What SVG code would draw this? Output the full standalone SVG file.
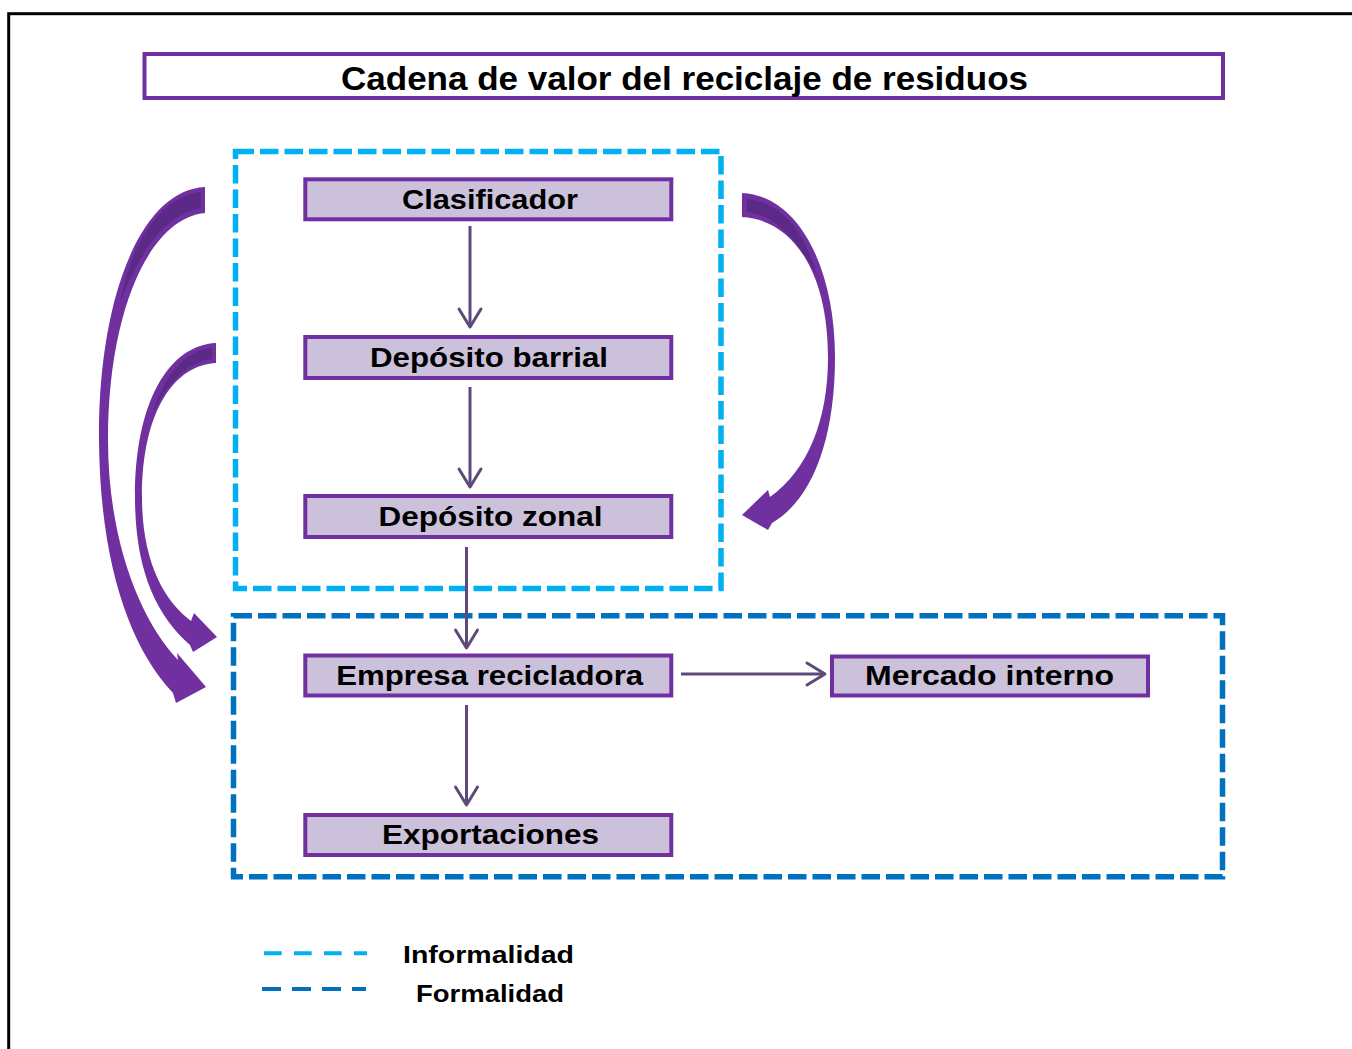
<svg xmlns="http://www.w3.org/2000/svg" width="1352" height="1049" viewBox="0 0 1352 1049">
<style>
.t{font-family:"Liberation Sans",Arial,sans-serif;font-weight:bold;fill:#000;text-anchor:middle}
.node{fill:#CCC1DA;stroke:#7030A0;stroke-width:4}
.conn{stroke:#5F497A;stroke-width:3;fill:none;marker-end:url(#chev)}
.big{fill:#7030A0}
.shade{fill:#5A2A86}
</style>
<defs>
<marker id="chev" markerUnits="userSpaceOnUse" markerWidth="28" markerHeight="32" viewBox="-5 -5 28 32" refX="18" refY="11" orient="auto">
<path d="M0,0 L18,11 L0,22" fill="none" stroke="#5F497A" stroke-width="3" stroke-linejoin="round" stroke-linecap="round"/>
</marker>
</defs>
<rect x="8.7" y="13.7" width="1400" height="1100" fill="#fff" stroke="#000" stroke-width="3"/>

<g id="title">
<rect x="144.5" y="54" width="1078.5" height="44" fill="#fff" stroke="#7030A0" stroke-width="4"/>
<text class="t" x="684.5" y="90" font-size="34" textLength="687" lengthAdjust="spacingAndGlyphs">Cadena de valor del reciclaje de residuos</text>
</g>

<g id="informalidad-zone">
<rect x="235.5" y="151.5" width="485.5" height="437" fill="none" stroke="#00B0F0" stroke-width="5.5" stroke-dasharray="18.5 6"/>
</g>
<g id="formalidad-zone">
<rect x="233.5" y="615.7" width="989" height="261" fill="none" stroke="#0070C0" stroke-width="5.5" stroke-dasharray="18.5 6"/>
</g>

<g id="curved-arrows">
<g id="arrow-outer-left">
<path class="big" d="M205,187 C140,190 98,300 99,440 C100,560 128,645 173,693 L176,703 L206,687 L177,653 L178,660 C140,620 108,540 108,440 C108,310 150,218 205,213 Z"/>
<path class="shade" d="M201,192 C162,196 132,240 120,302 C140,252 165,214 201,208 Z"/>
</g>
<g id="arrow-inner-left">
<path class="big" d="M216,343 C170,345 135,400 135,497 C135,570 156,615 190,645 L193,652 L217,637 L194,613 L191,621 C163,600 142,560 142,497 C142,410 175,365 216,363 Z"/>
<path class="shade" d="M212,348 C185,350 165,375 153,412 C170,380 188,362 212,359 Z"/>
</g>
<g id="arrow-right">
<path class="big" d="M742,193 C800,196 835,270 835,357 C835,440 812,500 772,523 L768,530 L742,515 L768,490 L770,497 C808,470 828,420 828,357 C828,275 795,220 742,217 Z"/>
<path class="shade" d="M747,199 C780,202 805,230 818,278 C798,240 775,215 747,212 Z"/>
</g>
</g>

<g id="connectors">
<line class="conn" x1="470" y1="226" x2="470" y2="327"/>
<line class="conn" x1="470" y1="387" x2="470" y2="487"/>
<line class="conn" x1="466.5" y1="547" x2="466.5" y2="648"/>
<line class="conn" x1="466.5" y1="705" x2="466.5" y2="805"/>
<line class="conn" x1="681" y1="674" x2="825" y2="674"/>
</g>

<g id="node-clasificador">
<rect class="node" x="305.3" y="179.3" width="366" height="40"/>
<text class="t" x="490" y="209.3" font-size="27" textLength="176" lengthAdjust="spacingAndGlyphs">Clasificador</text>
</g>
<g id="node-deposito-barrial">
<rect class="node" x="305.3" y="337" width="366" height="41"/>
<text class="t" x="489" y="366.7" font-size="27" textLength="238" lengthAdjust="spacingAndGlyphs">Depósito barrial</text>
</g>
<g id="node-deposito-zonal">
<rect class="node" x="305.3" y="496" width="366" height="41"/>
<text class="t" x="490.5" y="525.7" font-size="27" textLength="224" lengthAdjust="spacingAndGlyphs">Depósito zonal</text>
</g>
<g id="node-empresa">
<rect class="node" x="305.3" y="655.5" width="366" height="40"/>
<text class="t" x="489.7" y="684.5" font-size="27" textLength="307" lengthAdjust="spacingAndGlyphs">Empresa recicladora</text>
</g>
<g id="node-mercado">
<rect class="node" x="832" y="656.5" width="316" height="39"/>
<text class="t" x="989.5" y="684.5" font-size="27" textLength="249" lengthAdjust="spacingAndGlyphs">Mercado interno</text>
</g>
<g id="node-exportaciones">
<rect class="node" x="305.3" y="815" width="366" height="40"/>
<text class="t" x="490.5" y="844" font-size="27" textLength="217" lengthAdjust="spacingAndGlyphs">Exportaciones</text>
</g>

<g id="legend">
<line x1="264" y1="953.3" x2="367" y2="953.3" stroke="#00B0F0" stroke-width="4" stroke-dasharray="17.7 12.3"/>
<line x1="262" y1="989" x2="366" y2="989" stroke="#0070C0" stroke-width="4" stroke-dasharray="19 11"/>
<text class="t" x="488.5" y="963.3" font-size="24" textLength="171" lengthAdjust="spacingAndGlyphs">Informalidad</text>
<text class="t" x="490" y="1002.3" font-size="24" textLength="148" lengthAdjust="spacingAndGlyphs">Formalidad</text>
</g>
</svg>
